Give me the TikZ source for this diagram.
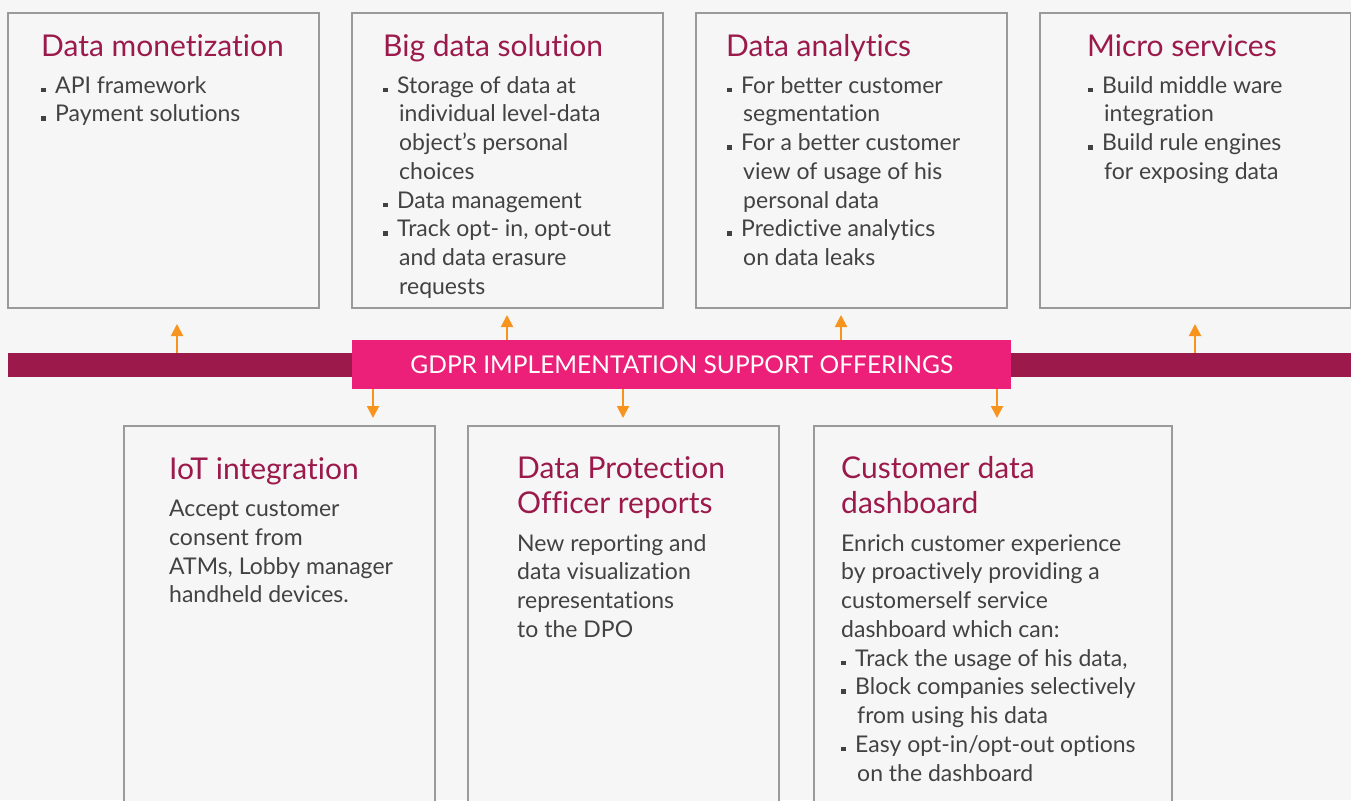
\documentclass[tikz,border=0pt]{standalone}
\usepackage{fontspec}
\setmainfont[Ligatures=NoCommon]{Lato}
\usetikzlibrary{arrows.meta}

\definecolor{bgcol}{HTML}{F6F6F6}
\definecolor{edgecol}{HTML}{9A9A9A}
\definecolor{plum}{HTML}{9B1A4B}
\definecolor{hotpink}{HTML}{EC1F79}
\definecolor{txtcol}{HTML}{424242}
\definecolor{arrcol}{HTML}{F7941D}

\newcommand{\bul}{\makebox[14pt][l]{\raisebox{1pt}{\rule{4.5pt}{4.5pt}}}}
\newcommand{\hng}{\hspace*{16pt}}

\begin{document}
\begin{tikzpicture}[x=1pt,y=-1pt,
	panel/.style={draw=edgecol,line width=2pt,fill=bgcol,inner sep=0,anchor=north west},
	% text nodes hang from the top of a strut: top = baseline - 0.7*baselineskip
	head/.style={anchor=north west,inner sep=0,align=left,text=plum,font=\fontsize{30}{35}\selectfont,execute at begin node=\strut},
	body/.style={anchor=north west,inner sep=0,align=left,text=txtcol,font=\fontsize{23}{28.75}\selectfont,execute at begin node=\strut},
	arr/.style={draw=arrcol,line width=2pt,-{Triangle[width=12pt,length=12pt]}}]
	\useasboundingbox (0,0) rectangle (1351,800);
	\fill[bgcol] (0,0) rectangle (1351,800);
	\clip (0,0) rectangle (1351,800);

	% upper row
	\foreach \x/\nm in {7/mon, 351/big, 695/ana, 1039/mic}
		\node[panel,minimum width=311pt,minimum height=295pt] (\nm) at (\x,12) {};

	% lower row
	\node[panel,minimum width=311pt,minimum height=390pt] (iot) at (123,425) {};
	\node[panel,minimum width=311pt,minimum height=390pt] (dpo) at (467,425) {};
	\node[panel,minimum width=358pt,minimum height=390pt] (cdd) at (813,425) {};

	% band
	\node[fill=plum,inner sep=0,anchor=north west,minimum width=1343pt,minimum height=24pt] (band) at (8,353) {};
	\node[fill=hotpink,inner sep=0,anchor=north west,minimum width=659pt,minimum height=49pt,
		text=white,font=\fontsize{24.5}{28}\selectfont] (gdpr) at (352,340) {GDPR IMPLEMENTATION SUPPORT OFFERINGS};

	\foreach \x/\from/\to/\gap in {177/band/mon/15, 507/gdpr/big/6, 841/gdpr/ana/6, 1195/band/mic/15}
		\draw[arr,shorten >=\gap pt] (\from.north -| \x,0) -- (\to.south -| \x,0);
	\foreach \x/\to in {373/iot, 623/dpo, 997/cdd}
		\draw[arr,shorten >=7pt] (gdpr.south -| \x,0) -- (\to.north -| \x,0);

	% texts
	\node[head] (monT) at (41,31.5) {Data monetization};
	\node[body] (monB) at (41,76) {\bul API framework\\ \bul Payment solutions};

	\node[head] (bigT) at (383,31.5) {Big data solution};
	\node[body] (bigB) at (383,76) {\bul Storage of data at\\ \hng individual level-data\\ \hng object’s personal\\ \hng choices\\
		\bul Data management\\ \bul Track opt- in, opt-out\\ \hng and data erasure\\ \hng requests};

	\node[head] (anaT) at (726,31.5) {Data analytics};
	\node[body] (anaB) at (727,76) {\bul For better customer\\ \hng segmentation\\ \bul For a better customer\\ \hng view of usage of his\\
		\hng personal data\\ \bul Predictive analytics\\ \hng on data leaks};

	\node[head] (micT) at (1087,31.5) {Micro services};
	\node[body] (micB) at (1088,76) {\bul Build middle ware\\ \hng integration\\ \bul Build rule engines\\ \hng for exposing data};

	\node[head] (iotT) at (169,455) {IoT integration};
	\node[body] (iotB) at (169,500) {Accept customer\\ consent from\\ ATMs, Lobby manager\\ handheld devices.};

	\node[head] (dpoT) at (517,456) {Data Protection\\ Officer reports};
	\node[body] (dpoB) at (517,534) {New reporting and\\ data visualization\\ representations\\ to the DPO};

	\node[head] (cddT) at (841,456) {Customer data\\ dashboard};
	\node[body] (cddB) at (841,534) {Enrich customer experience\\ by proactively providing a\\ customerself service\\ dashboard which can:\\
		\bul Track the usage of his data,\\ \bul Block companies selectively\\ \hng from using his data\\
		\bul Easy opt-in/opt-out options\\ \hng on the dashboard};
\end{tikzpicture}
\end{document}
